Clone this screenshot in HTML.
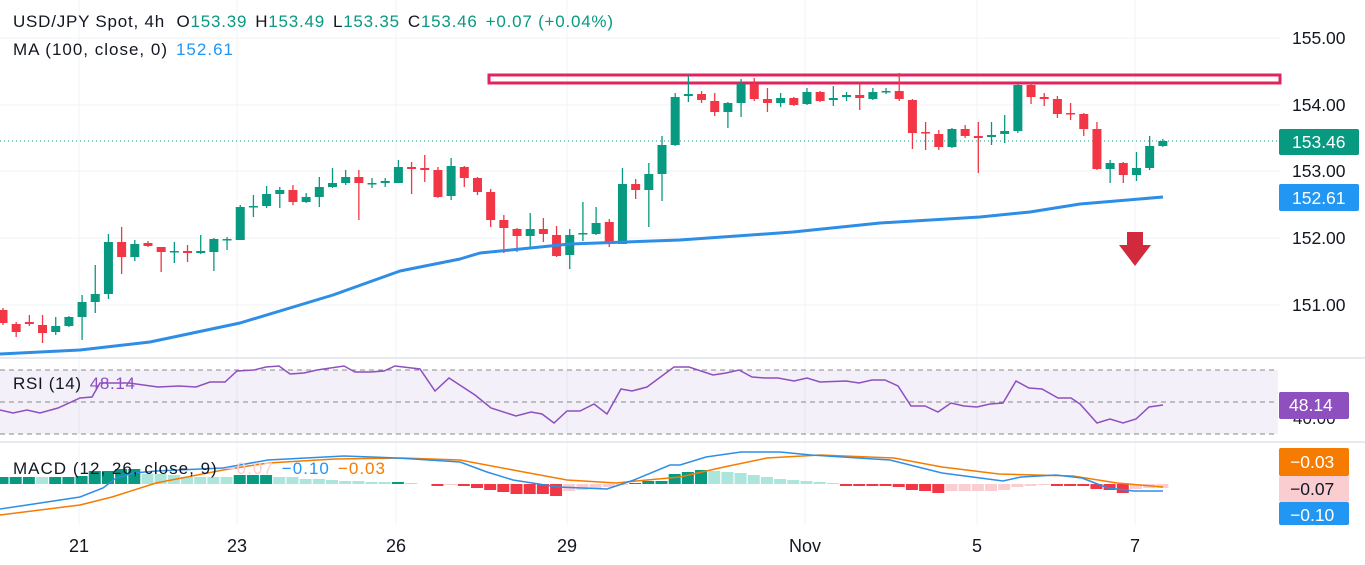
<!DOCTYPE html>
<html><head><meta charset="utf-8"><style>
html,body{margin:0;padding:0;background:#fff;}
body{width:1365px;height:565px;overflow:hidden;position:relative;font-family:"Liberation Sans",sans-serif;}
svg{position:absolute;left:0;top:0;}
.t{font-family:"Liberation Sans",sans-serif;}
</style></head><body>
<svg id="s" width="1365" height="565" xmlns="http://www.w3.org/2000/svg"></svg>
<script>
const S=document.getElementById('s');let h='';
const G='#089981',R='#f23645';
[38,105,171,238,305].forEach(y=>h+=`<line x1="0" x2="1280" y1="${y}" y2="${y}" stroke="#f0f3f6" stroke-width="1"/>`);
[79,237,396,567,805,977,1135].forEach(x=>h+=`<line x1="${x}" x2="${x}" y1="0" y2="525" stroke="#f0f3f6" stroke-width="1"/>`);
h+=`<line x1="0" x2="1365" y1="358" y2="358" stroke="#e6e9ee" stroke-width="2"/>`;
h+=`<line x1="0" x2="1365" y1="442" y2="442" stroke="#e6e9ee" stroke-width="2"/>`;
h+=`<rect x="489" y="75" width="791" height="8" fill="none" stroke="#e0245e" stroke-width="3"/>`;
h+=`<line x1="0" x2="1280" y1="141" y2="141" stroke="#089981" stroke-width="1" stroke-dasharray="1,3"/>`;
const C=[
['r',310,323,308,325],['r',324,332,322,337],['r',322,324,315,326],['r',325,333,315,343],['g',326,332,317,335],['g',317,326,316,327],['g',302,317,295,340],['g',294,302,265,313],['g',242,294,234,299],['r',242,257,227,274],
['g',244,257,240,261],['r',243,246,241,247],['r',247,252,247,272],['g',251,252,242,263],['r',251,253,245,262],['g',251,253,235,254],['g',239,252,238,271],['g',239,240,237,250],['g',207,240,205,240],['g',206,207,195,217],
['g',194,206,186,208],['g',190,194,187,208],['r',190,202,185,205],['g',197,202,193,203],['g',187,197,177,207],['g',183,187,168,188],['g',177,183,170,185],['r',177,183,170,220],['g',183,184,178,188],['g',181,183,178,187],
['g',167,183,160,183],['r',167,169,162,194],['r',168,170,155,182],['r',170,197,167,198],['g',166,196,158,200],['r',167,178,166,187],['r',178,192,177,195],['r',192,220,189,227],['r',220,228,215,253],['r',229,236,228,252],
['g',229,236,213,248],['r',229,234,218,242],['r',235,256,226,257],['g',235,255,229,269],['g',233,234,202,241],['g',223,234,207,235],['r',222,244,219,247],['g',184,244,168,244],['r',184,190,179,199],['g',174,190,163,227],
['g',145,174,136,201],['g',97,145,93,146],['g',94,96,75,102],['r',94,100,91,103],['r',101,112,93,116],['g',103,112,102,128],['g',84,103,79,117],['r',84,99,78,101],['r',99,103,88,112],['g',98,103,93,107],
['r',98,105,97,106],['g',92,104,88,105],['r',92,101,91,102],['g',98,100,86,106],['g',95,97,92,101],['r',95,98,84,110],['g',92,99,88,100],['g',91,92,88,94],['r',91,99,73,101],['r',100,133,99,149],
['r',132,133,122,150],['r',134,147,130,150],['g',129,147,128,148],['r',129,136,125,138],['r',136,138,122,173],['g',135,137,122,145],['g',131,134,115,143],['g',85,131,84,133],['r',85,97,83,104],['r',97,99,93,106],
['r',99,114,96,118],['r',113,114,103,120],['r',114,129,113,136],['r',129,169,122,170],['g',163,169,160,183],['r',163,175,162,183],['g',168,175,152,181],['g',146,168,136,170],['g',141,146,139,147]];
const X=i=>3+13.18*i;
C.forEach((c,i)=>{const x=X(i),col=c[0]=='g'?G:R;const t=Math.min(c[1],c[2]),b=Math.max(c[1],c[2]);
h+=`<line x1="${x}" x2="${x}" y1="${c[3]}" y2="${c[4]}" stroke="${col}" stroke-width="1.3"/>`;
h+=`<rect x="${x-4.5}" y="${t}" width="9" height="${Math.max(b-t,1.5)}" fill="${col}"/>`;});
h+=`<path d="M0,354 L80,350 L150,342 L240,323 L333,295 L400,271 L460,259 L480,253 L570,244 L680,240 L793,232 L880,223 L980,217 L1030,212 L1080,204 L1163,197" fill="none" stroke="#2e8ee6" stroke-width="3" stroke-linejoin="round"/>`;
h+=`<polygon points="1127,232 1143,232 1143,245 1151,245 1135,266 1119,245 1127,245" fill="#d22a3d"/>`;
h+=`<rect x="0" y="370" width="1278" height="64" fill="#7e57c2" fill-opacity="0.09"/>`;
[370,402,434].forEach(y=>h+=`<line x1="0" x2="1278" y1="${y}" y2="${y}" stroke="#888" stroke-width="1" stroke-dasharray="5,4"/>`);
h+=`<polyline fill="none" stroke="#8e4fbf" stroke-width="1.5" points="0,410 13,413 27,410 40,413 58,408 80,398 92,397 100,383 129,383 158,387 179,386 196,387 210,382 225,382 237,371 254,370 266,367 279,366 290,374 304,373 317,370 344,366 355,372 371,372 384,371 395,366 420,369 435,391 449,378 475,395 491,408 516,416 531,412 542,414 554,423 567,411 580,411 594,404 607,414 621,389 632,391 647,387 674,367 689,367 713,375 726,373 739,370 752,377 765,378 778,378 794,381 807,378 820,382 846,381 859,383 872,380 885,380 898,386 911,406 925,406 938,412 951,403 964,406 977,407 990,404 1003,403 1016,381 1029,388 1042,389 1058,398 1071,398 1080,404 1097,423 1110,419 1123,423 1136,419 1149,407 1163,405"/>`;
const Hv=[7,7,7,-1007,7,7,8,13,13,15,15,-10,-10,-9,-7,-7,-7,-7,9,9,9,-7,-7,-5,-5,-4,-3,-3,-2,-2,2,-1,0,'r2','p1','r2','r4','r6','r8','r10','r10','r10','r12','p7','p6','p4','p3','p1',1,3,3,10,12,14,-13,-12,-11,-9,-7,-5,-4,-3,-2,-1,'r2','r2','r2','r2','r3','r6','r7','r9','p7','p7','p7','p7','p6','p3','p2','p1','r2','r2','r2','r5','r6','r9','p5','p4','p4'];
const Z=484;
Hv.forEach((v,i)=>{const x=X(i)-6.5;let col,ht,y;
if(typeof v==='string'){col=v[0]=='r'?'#f23645':'#facdd1';ht=+v.slice(1);y=Z;}
else if(v===-1007){col='#acE5DC';ht=7;y=Z-7;}
else if(v>=0){col='#089981';ht=v;y=Z-v;}
else{col='#acE5DC';ht=-v;y=Z+v;}
if(ht>0)h+=`<rect x="${x}" y="${y}" width="12" height="${ht}" fill="${col}"/>`;});
h+=`<polyline fill="none" stroke="#f57c00" stroke-width="1.5" points="0,515 80,505 112,497 156,483 223,470 268,463 335,459 402,458 460,460 513,470 567,480 616,483 647,480 680,477 724,467 767,458 820,455 894,458 942,467 999,474 1073,476 1117,483 1163,487"/>`;
h+=`<polyline fill="none" stroke="#2e8ee6" stroke-width="1.5" points="0,509 27,505 80,497 103,488 116,478 134,473 156,471 223,468 268,460 344,456 397,458 429,460 460,462 487,472 513,480 558,487 607,489 634,480 670,465 680,465 706,457 741,452 780,452 811,455 890,460 942,473 1003,481 1021,477 1056,475 1082,478 1108,488 1134,491 1163,491"/>`;
const T=(x,y,s,c,sz,a)=>`<text class="t" x="${x}" y="${y}" font-size="${sz||17}" fill="${c||'#131722'}" ${a||''}>${s}</text>`;
[[155,44],[154,111],[153,177],[152,244],[151,311]].forEach(p=>h+=T(1292,p[1],p[0]+'.00','#131722',17.5));
h+=`<rect x="1279" y="129" width="80" height="26" rx="2" fill="#089981"/>`+T(1292,148,'153.46','#fff',17.5);
h+=`<rect x="1279" y="184" width="80" height="27" rx="2" fill="#2196f3"/>`+T(1292,204,'152.61','#fff',17.5);
h+=T(1293,424,'40.00');
h+=`<rect x="1279" y="392" width="70" height="27" rx="2" fill="#8e4fbf"/>`+T(1289,411,'48.14','#fff',17.5);
h+=`<rect x="1279" y="448" width="70" height="28" rx="2" fill="#f57c00"/>`+T(1290,468,'−0.03','#fff',17.5);
h+=`<rect x="1279" y="476" width="70" height="26" rx="2" fill="#facdd1"/>`+T(1290,495,'−0.07','#131722',17.5);
h+=`<rect x="1279" y="502" width="70" height="23" rx="2" fill="#2196f3"/>`+T(1290,521,'−0.10','#fff',17.5);
[['21',79],['23',237],['26',396],['29',567],['Nov',805],['5',977],['7',1135]].forEach(p=>h+=T(p[1],552,p[0],'#131722',18,'text-anchor="middle"'));
h+=`<text class="t" x="13" y="27" font-size="17" fill="#131722" textLength="600" lengthAdjust="spacing">USD/JPY Spot, 4h <tspan dx="6">O</tspan><tspan fill="#089981">153.39</tspan><tspan dx="8">H</tspan><tspan fill="#089981">153.49</tspan><tspan dx="8">L</tspan><tspan fill="#089981">153.35</tspan><tspan dx="8">C</tspan><tspan fill="#089981">153.46</tspan><tspan dx="8" fill="#089981">+0.07 (+0.04%)</tspan></text>`;
h+=`<text class="t" x="13" y="55" font-size="17" fill="#131722" textLength="220" lengthAdjust="spacing">MA (100, close, 0)<tspan dx="8" fill="#2196f3">152.61</tspan></text>`;
h+=`<text class="t" x="13" y="389" font-size="17" fill="#131722" textLength="122" lengthAdjust="spacing">RSI (14)<tspan dx="8" fill="#8e4fbf">48.14</tspan></text>`;
h+=`<text class="t" x="13" y="474" font-size="17" fill="#131722" textLength="372" lengthAdjust="spacing">MACD (12, 26, close, 9)<tspan dx="8" fill="#facdd1">−0.07</tspan><tspan dx="8" fill="#2196f3">−0.10</tspan><tspan dx="8" fill="#f57c00">−0.03</tspan></text>`;
S.innerHTML=h;
</script>
</body></html>
